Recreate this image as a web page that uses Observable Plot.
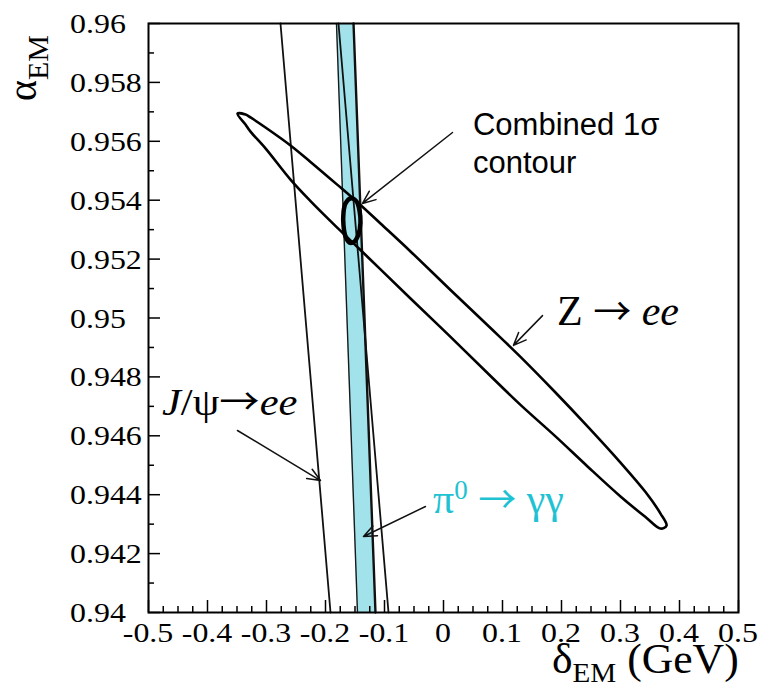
<!DOCTYPE html>
<html><head><meta charset="utf-8">
<script src="https://cdn.jsdelivr.net/npm/d3@7"></script>
<script src="https://cdn.jsdelivr.net/npm/@observablehq/plot@0.6"></script>
<style>body{margin:0;background:#fff}</style>
</head><body><div id="chart"></div>
<script>
// ---- tick values ----
const xTicksMajor = [-0.5,-0.4,-0.3,-0.2,-0.1,0,0.1,0.2,0.3,0.4,0.5];
const xTicksMinor = [-0.475,-0.45,-0.425,-0.375,-0.35,-0.325,-0.275,-0.25,-0.225,-0.175,-0.15,-0.125,-0.075,-0.05,-0.025,0.025,0.05,0.075,0.125,0.15,0.175,0.225,0.25,0.275,0.325,0.35,0.375,0.425,0.45,0.475];
const yTicksMajor = [0.94,0.942,0.944,0.946,0.948,0.95,0.952,0.954,0.956,0.958,0.96];
const yTicksMinor = [0.941,0.943,0.945,0.947,0.949,0.951,0.953,0.955,0.957,0.959];
const xTickLabels = ["-0.5","-0.4","-0.3","-0.2","-0.1","0","0.1","0.2","0.3","0.4","0.5"];
const yTickLabels = ["0.94","0.942","0.944","0.946","0.948","0.95","0.952","0.954","0.956","0.958","0.96"];

// ---- Z -> ee contour ----
const zeeX = [-0.3492,-0.3356,-0.3271,-0.3017,-0.2593,-0.2254,-0.1797,-0.1407,-0.1068,-0.0559,0.0119,0.0797,0.1305,0.1898,0.2441,0.3000,0.3424,0.3678,0.3780,
              0.3678,0.3424,0.3000,0.2441,0.1898,0.1305,0.0797,0.0119,-0.0559,-0.1068,-0.1407,-0.1797,-0.2254,-0.2593,-0.3017,-0.3271,-0.3356];
const zeeY = [0.95694,0.95691,0.95681,0.95647,0.95586,0.95530,0.95452,0.95384,0.95321,0.95226,0.95095,0.94966,0.94868,0.94747,0.94632,0.94509,0.94409,0.94336,0.94295,
              0.94285,0.94324,0.94394,0.94496,0.94598,0.94705,0.94803,0.94936,0.95066,0.95165,0.95231,0.95306,0.95397,0.95470,0.95576,0.95633,0.95657];

// ---- combined 1 sigma contour ----
const combX = [-0.1576,-0.1475,-0.1424,-0.1407,-0.1441,-0.1508,-0.1593,-0.1661,-0.1695,-0.1695,-0.1661];
const combY = [0.95406,0.95396,0.95365,0.95324,0.95284,0.95260,0.95256,0.95277,0.95314,0.95358,0.95389];

// ---- pi0 -> gamma gamma band ----
const piY = [0.96, 0.94];
const piLeft = [-0.1814, -0.1458];
const piRight = [-0.1525, -0.1153];

// ---- J/psi -> ee band ----
const jpsiY = [0.96, 0.94];
const jpsiLeft = [-0.2763, -0.1915];
const jpsiRight = [-0.1780, -0.0932];

// ---- annotation arrows ----
const arrX1 = [0.0153, 0.1678, -0.3492, -0.0305];
const arrY1 = [0.95630, 0.95008, 0.94618, 0.94360];
const arrX2 = [-0.1373, 0.1186, -0.2085, -0.1356];
const arrY2 = [0.95389, 0.94907, 0.94448, 0.94258];

// ---- label anchors ----
const labelNames = ["combined1", "combined2", "zee", "jpsi", "pi0"];
const labelX = [0.0508, 0.0508, 0.1932, -0.4763, -0.0169];
const labelY = [0.95620, 0.95491, 0.94975, 0.94669, 0.94336];

const W = 758, H = 689, mL = 148, mR = 20, mT = 23, mB = 77;
const fw = W - mL - mR, fh = H - mT - mB;

const pts = (xs, ys) => xs.map((x, i) => ({x, y: ys[i]}));
const piBand = piY.map((y, i) => ({y, x1: piLeft[i], x2: piRight[i]}));
const arrows = arrX1.map((x, i) => ({x1: x, y1: arrY1[i], x2: arrX2[i], y2: arrY2[i]}));
const serif = "'Liberation Serif', 'Times New Roman', serif";
const sans = "'Liberation Sans', Arial, sans-serif";
const arrowFont = "'Noto Sans CJK SC', 'DejaVu Sans', sans-serif";

const plot = Plot.plot({
  width: W, height: H,
  marginLeft: mL, marginRight: mR, marginTop: mT, marginBottom: mB,
  x: {domain: [-0.5, 0.5], axis: null},
  y: {domain: [0.94, 0.96], axis: null},
  style: {fontFamily: serif, background: "#fff", color: "#000"},
  marks: [
    Plot.areaX(piBand, {y: "y", x1: "x1", x2: "x2", fill: "#a2e3eb"}),
    Plot.line(pts(piLeft, piY), {x: "x", y: "y", stroke: "#1a1a1a", strokeWidth: 1.4}),
    Plot.line(pts(piRight, piY), {x: "x", y: "y", stroke: "#111", strokeWidth: 2.4}),
    Plot.line(pts(jpsiLeft, jpsiY), {x: "x", y: "y", stroke: "#111", strokeWidth: 1.8}),
    Plot.line(pts(jpsiRight, jpsiY), {x: "x", y: "y", stroke: "#111", strokeWidth: 1.8}),
    Plot.line(pts(zeeX, zeeY), {x: "x", y: "y", curve: "catmull-rom-closed", stroke: "#000", strokeWidth: 2.6}),
    Plot.line(pts(combX, combY), {x: "x", y: "y", curve: "catmull-rom-closed", stroke: "#000", strokeWidth: 4.5}),
    Plot.arrow(arrows, {x1: "x1", y1: "y1", x2: "x2", y2: "y2", stroke: "#111", strokeWidth: 1.5, headLength: 14, headAngle: 45}),
    Plot.tickX(xTicksMajor, {x: d => d, insetTop: fh - 12, stroke: "#000", strokeWidth: 1.5}),
    Plot.tickX(xTicksMinor, {x: d => d, insetTop: fh - 6, stroke: "#000", strokeWidth: 1.5}),
    Plot.tickY(yTicksMajor, {y: d => d, insetRight: fw - 12, stroke: "#000", strokeWidth: 1.5}),
    Plot.tickY(yTicksMinor, {y: d => d, insetRight: fw - 6, stroke: "#000", strokeWidth: 1.5}),
    Plot.frame({stroke: "#000", strokeWidth: 2})
  ]
});

const svg = d3.select(plot);
const X = plot.scale("x"), Y = plot.scale("y");
const layer = svg.append("g");
function rich(xp, yp, parts, {size, family = serif, fill = "#000", sx = 1, rotate = 0, anchor = "start"}) {
  const t = layer.append("text")
    .attr("transform", `translate(${xp},${yp}) rotate(${rotate}) scale(${sx},1)`)
    .attr("text-anchor", anchor)
    .attr("font-family", family).attr("font-size", size).attr("fill", fill)
    .style("white-space", "pre");
  let shift = 0;
  for (const p of parts) {
    const ts = t.append("tspan").text(p.t);
    if (p.italic) ts.attr("font-style", "italic");
    if (p.size) ts.attr("font-size", p.size);
    if (p.family) ts.attr("font-family", p.family);
    const target = p.shift || 0;
    if (target !== shift) { ts.attr("dy", target - shift); shift = target; }
  }
  return t;
}

// tick labels
xTicksMajor.forEach((v, i) => rich(X.apply(v), Y.apply(0.94) + 30, [{t: xTickLabels[i]}], {size: 28, sx: 1.14, anchor: "middle"}));
yTicksMajor.forEach((v, i) => rich(70, Y.apply(v) + 10, [{t: yTickLabels[i]}], {size: 28, sx: 1.14}));

const L = name => { const i = labelNames.indexOf(name); return [X.apply(labelX[i]), Y.apply(labelY[i])]; };

rich(...L("combined1"), [{t: "Combined 1σ"}], {size: 31, family: sans});
rich(...L("combined2"), [{t: "contour"}], {size: 31, family: sans});
rich(...L("zee"), [{t: "Z "}, {t: "→", family: arrowFont, size: 38}, {t: " "}, {t: "ee", italic: true}], {size: 42});
rich(...L("jpsi"), [{t: "J", italic: true}, {t: "/ψ"}, {t: "→", family: arrowFont, size: 36}, {t: "ee", italic: true}], {size: 38, sx: 1.12});
rich(...L("pi0"), [{t: "π"}, {t: "0", size: 27, shift: -14}, {t: " ", shift: 0}, {t: "→", family: arrowFont, size: 38}, {t: " γγ"}], {size: 42, fill: "#1fc2d3"});

// axis titles
rich(36, 101, [{t: "α"}, {t: "EM", size: 30, shift: 12}], {size: 40, rotate: -90});
rich(552, 673, [{t: "δ"}, {t: "EM", size: 28, shift: 9}, {t: " (GeV)", shift: 0}], {size: 42, sx: 1.04});

document.getElementById("chart").appendChild(plot);
</script>
</body></html>
